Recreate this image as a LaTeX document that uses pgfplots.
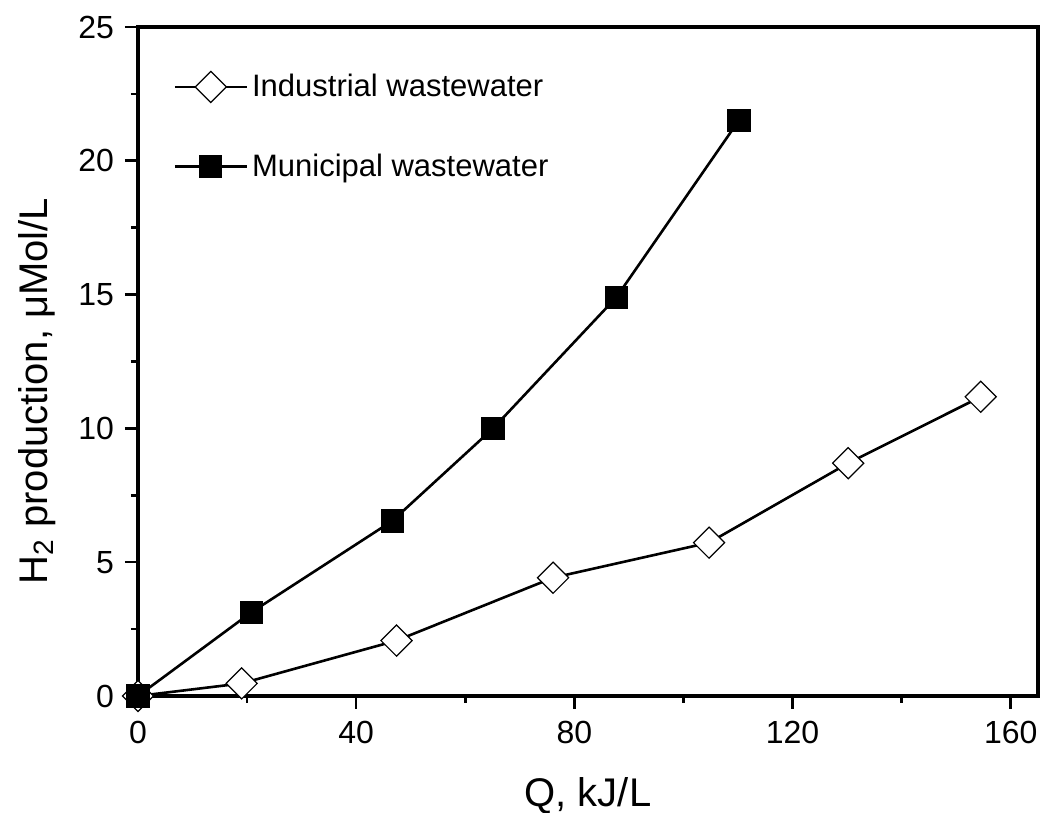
\documentclass[border=0pt]{standalone}
\usepackage{fontspec}
\setmainfont{Liberation Sans}
\usepackage{pgfplots}
\pgfplotsset{compat=1.18}
\begin{document}
\begin{tikzpicture}
\begin{axis}[
  at={(0,0)}, anchor=south west,
  scale only axis, width=450pt, height=334.5pt,
  xmin=0, xmax=165, ymin=0, ymax=25,
  xtick={0,40,...,160}, ytick={0,5,...,25},
  minor x tick num=1, minor y tick num=1,
  tick align=outside, xtick pos=bottom, ytick pos=left,
  major tick length=6.5pt, minor tick length=3.5pt,
  axis line style={line width=1.6pt},
  major tick style={line width=1.3pt, black},
  minor tick style={line width=1.3pt, black},
  xticklabel={\fontsize{16}{19}\selectfont\pgfmathprintnumber[assume math mode=true]{\tick}},
  yticklabel={\fontsize{16}{19}\selectfont\pgfmathprintnumber[assume math mode=true]{\tick}},
  xticklabel style={yshift=-2.5pt},
  yticklabel style={xshift=-2pt},
  xlabel={Q, kJ/L}, ylabel={H\textsubscript{2} production, μMol/L},
  xlabel style={font=\fontsize{20}{24}\selectfont, at={(axis description cs:0.5,-0.149)}, anchor=center},
  ylabel style={font=\fontsize{20}{24}\selectfont, at={(axis description cs:-0.1122,0.456)}, anchor=center},
  clip=false,
  legend style={at={(axis description cs:0.039,0.936)}, anchor=north west,
    draw=none, fill=none, font=\fontsize{15.5}{18}\selectfont,
    row sep=23pt, inner sep=0pt, nodes={inner sep=2pt}},
  legend cell align=left,
  legend image code/.code={\draw[mark repeat=2,mark phase=2,#1] plot coordinates {(0pt,0pt) (18pt,0pt) (36pt,0pt)};},
]
\addplot[black, line width=1.3pt, mark=square*, mark size=5.5pt,
  mark options={rotate=45, fill=white, draw=black, line width=0.6pt}]
  coordinates {(0,0) (19.0,0.47) (47.4,2.07) (76.1,4.42) (104.7,5.73) (130.2,8.70) (154.5,11.18)};
\addlegendentry{Industrial wastewater}
\addplot[black, line width=1.3pt, mark=square*, mark size=5.5pt,
  mark options={fill=black, line width=0.6pt}]
  coordinates {(0,0) (20.8,3.13) (46.6,6.54) (65.1,10.0) (87.7,14.9) (110.2,21.52)};
\addlegendentry{Municipal wastewater}
\end{axis}
\pgfresetboundingbox
\path ([shift={(-69pt,-58.5pt)}]current axis.south west) rectangle ([shift={(451.5pt,348pt)}]current axis.south west);
\end{tikzpicture}
\end{document}
